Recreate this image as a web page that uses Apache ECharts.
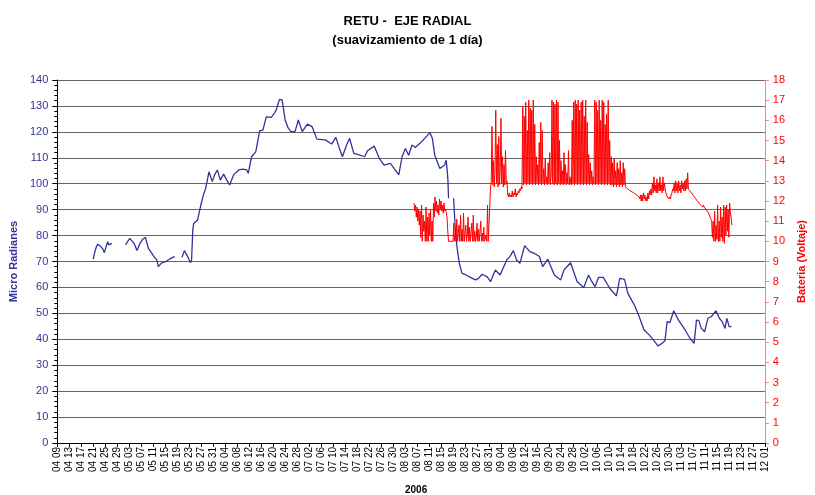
<!DOCTYPE html>
<html><head><meta charset="utf-8">
<script src="https://cdn.jsdelivr.net/npm/echarts@6/dist/echarts.min.js"></script>
<style>html,body{margin:0;padding:0;background:#fff}#c{width:815px;height:495px}</style>
</head><body><div id="c"></div>
<script>
// X axis: days since 2006-04-09; tick labels every 4 days
const xTickLabels = ['04 09','04 13','04 17','04 21','04 25','04 29','05 03','05 07','05 11','05 15','05 19','05 23','05 27','05 31','06 04','06 08','06 12','06 16','06 20','06 24','06 28','07 02','07 06','07 10','07 14','07 18','07 22','07 26','07 30','08 03','08 07','08 11','08 15','08 19','08 23','08 27','08 31','09 04','09 08','09 12','09 16','09 20','09 24','09 28','10 02','10 06','10 10','10 14','10 18','10 22','10 26','10 30','11 03','11 07','11 11','11 15','11 19','11 23','11 27','12 01'];
const xTickStep = 4;

// Micro Radianes: [day, value]; '-' = gap
const microRadianes = [
[12.0,70.9],[12.5,73.5],[13.0,75.5],[13.5,76.7],[14.0,76.0],[14.6,75.7],[15.2,74.8],[15.7,73.4],[16.3,75.8],[16.8,77.6],[17.2,76.4],[17.6,76.4],[18.2,77.0],
[20,'-'],
[22.8,76.4],[23.5,77.8],[24.2,78.9],[24.8,79.3],[25.6,77.0],[26.6,74.2],[27.5,76.8],[28.5,78.6],[29.4,79.3],[30.4,75.1],[31.5,73.2],[32.3,71.8],[33.2,70.6],[33.7,68.0],[34.8,69.5],[36.0,69.9],[37.0,70.6],[38.0,71.3],[39.2,71.9],
[40,'-'],
[41.6,71.6],[42.4,74.2],[43.5,71.9],[44.4,69.5],[44.8,70.6],[45.2,82.1],[45.5,84.7],[46.8,86.0],[47.9,91.8],[48.7,95.5],[49.5,98.2],[50.6,104.6],[51.7,100.8],[52.5,103.5],[53.4,105.3],[54.4,101.4],[55.5,103.7],[56.5,101.5],[57.5,99.5],[58.8,103.4],[60.5,105.3],[62.0,105.6],[63.2,105.3],[63.7,104.0],[64.8,110.4],[66.2,112.3],[67.5,120.4],[68.6,120.7],[69.7,125.8],[71.4,125.6],[72.3,127.0],[73.0,128.4],[74.1,132.5],[75.0,132.3],[76.0,124.6],[77.0,121.5],[77.9,120.1],[79.3,120.1],[80.4,124.6],[81.7,120.1],[83.4,123.0],[85.0,122.0],[86.6,117.2],[89.4,116.9],[91.5,115.3],[92.9,117.9],[94.0,114.0],[95.1,110.4],[96.5,114.9],[97.5,117.5],[98.9,111.7],[100.5,111.2],[102.5,110.4],[103.5,112.7],[105.7,114.5],[107.4,109.8],[109.0,107.2],[111.2,107.8],[112.3,105.9],[113.9,103.4],[115.0,110.4],[116.1,113.6],[117.2,111.0],[118.3,114.9],[119.4,114.0],[121.5,116.2],[122.6,117.5],[124.3,119.7],[125.1,117.5],[125.9,111.0],[127.6,105.9],[129.2,107.2],[129.7,109.1],[130.0,105.9],[130.3,101.4],[130.5,94.4],
[131.3,'-'],
[132.2,94.4],[132.7,83.4],[133.3,75.7],[134.1,69.3],[135.0,65.4],[136.0,65.0],[137.4,64.1],[139.5,62.9],[140.5,63.5],[141.7,65.1],[143.4,64.1],[144.5,62.2],[146.1,66.7],[147.7,64.8],[149.9,70.6],[151.0,72.0],[152.1,74.2],[153.2,70.6],[154.3,69.3],[155.9,76.1],[157.6,73.8],[159.2,73.1],[160.8,71.9],[161.9,68.0],[163.6,70.9],[165.8,64.8],[167.9,62.9],[169.0,66.7],[171.2,69.5],[173.4,62.2],[175.6,60.0],[177.2,64.8],[178.3,62.2],[179.4,60.3],[180.5,63.9],[182.1,63.9],[184.3,59.6],[186.5,56.7],[187.6,63.5],[189.2,63.1],[190.3,57.7],[192.5,53.2],[194.1,48.7],[195.7,43.6],[197.4,41.7],[199.0,39.5],[200.4,37.4],[202.0,38.7],[202.7,39.5],[203.4,46.8],[204.3,46.4],[205.6,51.0],[207.2,47.4],[209.4,43.6],[211.0,40.4],[212.4,38.4],[213.2,47.4],[214.0,47.2],[214.8,44.2],[215.9,42.9],[217.0,48.1],[218.1,48.7],[219.7,51.0],[220.8,48.1],[221.8,46.8],[222.7,44.2],[223.3,48.1],[224.1,44.9],[224.9,44.9]
];

// Bateria (Voltaje): readings every 6 hours starting at day 119 (one row per day)
const bateriaStartDay = 119;
const bateriaStepDays = 0.25;
const bateria = [
11.9,11.5,11.8,11.2, 11.7,11.0,11.6,10.8, 11.5,10.2,11.8,10.0, 11.3,10.5,11.0,10.0, 11.7,10.0,11.2,10.0,
11.4,10.3,11.6,10.0, 11.0,10.0,11.9,11.2, 12.2,11.5,12.0,11.4, 11.8,11.3,12.1,11.6, 12.0,11.5,11.8,11.4,
11.9,11.5,11.6,11.4, 11.2,10.5,10.0,10.0, 10.0,10.0,10.0,10.0, 10.0,10.9,10.0,10.4, 10.0,11.1,10.0,10.0,
10.8,10.0,11.3,10.0, 10.6,10.0,11.4,10.0, 10.0,10.8,10.0,10.3, 11.2,10.0,10.7,10.0, 10.0,10.9,10.0,11.3,
10.0,10.5,10.0,10.2, 10.9,10.0,10.6,10.0, 10.0,11.0,10.0,10.4, 10.0,10.7,10.0,10.0, 10.3,10.0,11.8,10.0,
10.0,10.0,12.6,13.0, 15.7,12.8,14.0,12.7, 13.5,16.5,12.9,14.8, 12.7,15.2,12.8,13.6, 16.1,12.9,14.2,12.7,
13.8,12.8,14.5,12.9, 13.0,12.3,12.2,12.4, 12.2,12.3,12.2,12.5, 12.2,12.4,12.3,12.6, 12.2,12.4,12.3,12.5,
12.4,12.6,12.5,12.7, 12.6,16.7,12.8,16.2, 12.9,16.9,12.8,15.5, 12.9,17.0,12.8,16.6, 12.9,16.5,12.8,17.0,
12.9,15.8,12.8,14.2, 12.9,13.8,12.8,14.9, 12.9,15.9,12.8,15.5, 12.9,13.6,12.8,14.1, 12.9,13.2,12.8,13.9,
12.9,14.4,12.8,13.3, 17.0,12.9,16.9,12.8, 16.8,12.9,17.0,12.8, 16.9,12.9,15.0,12.8, 14.0,12.9,13.5,12.8,
14.4,12.9,13.8,12.8, 13.4,12.9,14.5,12.8, 13.2,12.9,12.8,16.0, 12.9,16.9,12.8,17.0, 12.9,16.8,12.8,17.0,
12.9,16.5,12.8,16.9, 12.9,17.0,12.8,16.2, 12.9,17.0,12.8,15.9, 12.9,14.3,12.8,13.9, 12.9,13.5,12.8,13.2,
12.9,17.0,12.8,16.9, 12.9,16.5,12.8,17.0, 12.9,16.0,12.8,17.0, 12.9,16.9,12.8,15.8, 12.9,16.3,12.8,17.0,
12.9,15.0,12.8,14.2, 12.8,13.9,12.7,14.1, 12.8,13.5,12.7,13.9, 12.8,13.6,12.7,14.0, 12.8,13.4,12.7,13.9,
12.8,13.6,12.7,12.7, 12.65,12.6,12.58,12.55, 12.52,12.5,12.46,12.45, 12.42,12.4,12.38,12.35, 12.32,12.3,12.3,12.25,
12.2,12.1,12.3,12.0, 12.3,12.0,12.4,12.1, 12.3,12.0,12.2,12.0, 12.4,12.1,12.5,12.3, 12.6,12.3,12.9,12.4,
13.2,12.5,12.8,12.4, 13.1,12.4,12.9,12.5, 13.2,12.5,12.8,12.4, 13.2,12.5,12.9,12.6, 12.4,12.3,12.2,12.2,
12.1,12.2,12.1,12.3, 12.4,12.6,12.5,12.9, 12.4,13.0,12.5,12.9, 12.4,13.0,12.5,12.8, 12.4,13.0,12.6,12.9,
12.5,13.0,12.5,13.1, 12.6,13.4,12.6,12.55, 12.5,12.45,12.4,12.35, 12.3,12.25,12.2,12.15, 12.1,12.05,12.0,11.95,
11.9,11.85,11.8,11.8, 11.75,11.7,11.8,11.7, 11.65,11.6,11.55,11.5, 11.45,11.4,11.3,11.2, 11.1,11.0,10.2,11.0,
10.0,11.5,10.0,10.8, 10.1,11.8,10.0,11.0, 10.0,11.7,10.2,11.2, 10.0,11.8,9.9,11.7, 10.3,11.8,10.5,11.6,
10.2,11.9,11.4,11.2, 10.8
];

const bateriaData = bateria.map((v, i) => [bateriaStartDay + i * bateriaStepDays, v]);

const chart = echarts.init(document.getElementById('c'), null, {renderer: 'canvas'});
const FONT = 'Liberation Sans, Arial, sans-serif';
chart.setOption({
  animation: false,
  backgroundColor: '#fff',
  title: [
    {text: 'RETU -  EJE RADIAL', left: 'center', top: 10, textStyle: {fontFamily: FONT, fontSize: 13, fontWeight: 'bold', color: '#000'}},
    {text: '(suavizamiento de 1 día)', left: 'center', top: 29, textStyle: {fontFamily: FONT, fontSize: 13, fontWeight: 'bold', color: '#000'}}
  ],
  graphic: [{type: 'text', left: 405, top: 485, style: {text: '2006', font: 'bold 10px ' + FONT, fill: '#000'}}],
  grid: {left: 57, right: 37, top: 80, bottom: 52, containLabel: false},
  xAxis: {
    type: 'value', min: 0, max: (xTickLabels.length - 1) * xTickStep, interval: xTickStep,
    axisLine: {lineStyle: {color: '#000', width: 1}},
    axisTick: {show: true, length: 4, lineStyle: {color: '#000'}},
    axisLabel: {rotate: 90, fontFamily: FONT, fontSize: 10, color: '#000', margin: 4,
      formatter: v => xTickLabels[Math.round(v / xTickStep)] || ''},
    splitLine: {show: false}
  },
  yAxis: [
    {
      type: 'value', min: 0, max: 140, interval: 10, position: 'left',
      name: 'Micro Radianes', nameLocation: 'middle', nameGap: 30, nameRotate: 90,
      nameTextStyle: {fontFamily: FONT, fontSize: 11, fontWeight: 'bold', color: '#333399'},
      axisLine: {show: true, lineStyle: {color: '#000'}},
      axisTick: {show: true, length: 5, lineStyle: {color: '#000'}},
      minorTick: {show: true, splitNumber: 5, length: 3, lineStyle: {color: '#000'}},
      axisLabel: {fontFamily: FONT, fontSize: 11, color: '#333399', margin: 9},
      splitLine: {show: true, lineStyle: {color: '#666666', width: 1}}
    },
    {
      type: 'value', min: 0, max: 18, interval: 1, position: 'right',
      name: 'Bateria (Voltaje)', nameLocation: 'middle', nameGap: 27, nameRotate: 90,
      nameTextStyle: {fontFamily: FONT, fontSize: 11, fontWeight: 'bold', color: '#ff0000'},
      axisLine: {show: true, lineStyle: {color: '#ff8080'}},
      axisTick: {show: true, inside: false, length: 4, lineStyle: {color: '#ff8080'}},
      axisLabel: {fontFamily: FONT, fontSize: 11, color: '#ff0000', margin: 8},
      splitLine: {show: false}
    }
  ],
  series: [
    {type: 'line', name: 'Micro Radianes', yAxisIndex: 0, data: microRadianes, showSymbol: false, connectNulls: false,
      lineStyle: {color: '#333399', width: 1.3}, itemStyle: {color: '#333399'}},
    {type: 'line', name: 'Bateria', yAxisIndex: 1, data: bateriaData, showSymbol: false,
      lineStyle: {color: '#ff0000', width: 1}, itemStyle: {color: '#ff0000'}}
  ]
});
</script></body></html>
